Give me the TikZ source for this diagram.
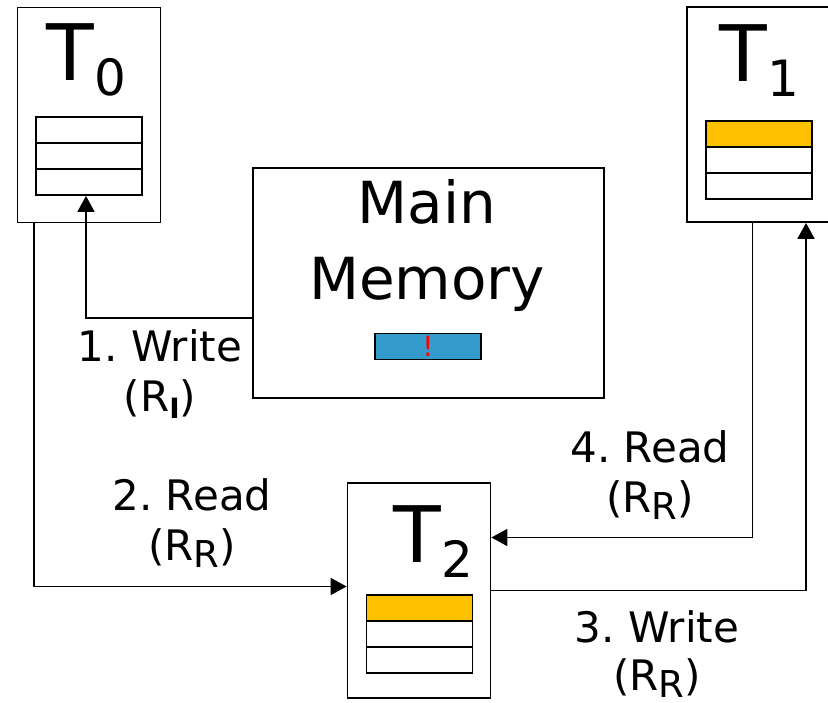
\documentclass[tikz,border=0pt]{standalone}
\usepackage{fontspec}
\setmainfont{DejaVu Sans}
\usetikzlibrary{arrows.meta}
\definecolor{gold}{HTML}{FFC000}
\definecolor{membar}{HTML}{339CCC}
\newcommand\mysubR[1]{\raisebox{-7pt}{\fontsize{37}{37}\selectfont #1}}
\newcommand\mysubI[1]{\raisebox{-7pt}{\fontsize{28}{28}\selectfont\bfseries #1}}
\newcommand\myttl[1]{\fontsize{78}{78}\selectfont T\raisebox{-15pt}{\fontsize{50}{50}\selectfont #1}}
\frenchspacing
\begin{document}
\begin{tikzpicture}[x=1pt,y=-1pt,line width=1.8pt,
  box/.style={draw,minimum width=143pt,minimum height=215pt,inner sep=0pt},
  reg/.style={draw,minimum width=106pt,minimum height=26pt,inner sep=0pt},
  arr/.style={-{Triangle[length=16pt,width=17pt]}},
  ttl/.style={anchor=base west,inner sep=0pt},
  lbl/.style={anchor=base,align=center,inner sep=0pt,font=\fontsize{42}{50}\selectfont}]
\useasboundingbox (0,0) rectangle (828,703);
% boxes
\node[box] (T0) at (89,115) {};
\node[box] (T1) at (758.5,114.5) {};
\node[box] (T2) at (419,590.5) {};
\node[draw,minimum width=351pt,minimum height=230pt,inner sep=0pt] (MM) at (428.5,283) {};
% titles
\node[ttl] (t0) at (46,81) {\myttl{0}};
\node[ttl] (t1) at (719,82) {\myttl{1}};
\node[ttl] (t2) at (393,562) {\myttl{2}};
\node[anchor=base,align=center,inner sep=0pt,font=\fontsize{58}{76}\selectfont] (mmt) at (427,300) {Main\\Memory};
% registers
\node[reg] (r0a) at (89,130) {};
\node[reg] (r0b) at (89,156) {};
\node[reg] (r0c) at (89,182) {};
\node[reg,fill=gold] (r1a) at (759,134) {};
\node[reg] (r1b) at (759,160) {};
\node[reg] (r1c) at (759,186) {};
\node[reg,fill=gold] (r2a) at (419.5,608) {};
\node[reg] (r2b) at (419.5,634) {};
\node[reg] (r2c) at (419.5,660) {};
\node[reg,fill=membar] (bar) at (428,346.5) {};
\node[text=red,inner sep=0pt,font=\fontsize{28}{28}\selectfont] (bang) at (bar) {!};
% connectors
\draw[arr] ([yshift=-35pt]MM.west) -| ([xshift=-3pt]r0c.south);
\draw[arr] ([xshift=17pt]T0.south west) |- ([yshift=4pt]T2.west);
\draw[arr] (T2.east) -| ([xshift=47.5pt]T1.south);
\draw[arr] ([xshift=-6pt]T1.south) |- ([yshift=53pt]T2.east);
% labels
\node[lbl] (l1) at (160,412) {1. Write\\(R\mysubI{I})};
\node[lbl] (l2) at (192,560) {2. Read\\(R\mysubR{R})};
\node[lbl] (l4) at (650,512) {4. Read\\(R\mysubR{R})};
\node[lbl,font=\fontsize{42}{48}\selectfont] (l3) at (657,690) {3. Write\\(R\mysubR{R})};
\end{tikzpicture}
\end{document}
